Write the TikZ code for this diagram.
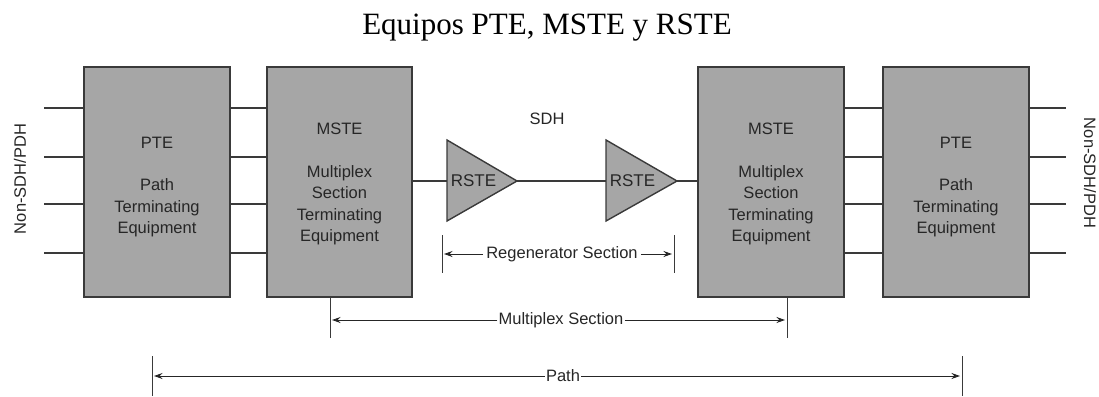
\documentclass[tikz,border=0pt]{standalone}
\usepackage{fontspec}
\setmainfont{Liberation Serif}
\setsansfont{Liberation Sans}
\usetikzlibrary{arrows.meta}
\definecolor{boxgray}{HTML}{A6A6A6}
\definecolor{edgegray}{HTML}{3A3A3A}
\begin{document}
\begin{tikzpicture}[x=1pt,y=-1pt,
  eqbox/.style={draw=edgegray,line width=1.4pt,fill=boxgray,minimum width=146pt,minimum height=230pt,inner sep=0pt},
  boxtxt/.style={font=\sffamily\fontsize{16.5}{21.5}\selectfont,align=center,text=black!85,inner sep=0pt},
  wire/.style={draw=edgegray,line width=1.4pt},
  tick/.style={draw=edgegray,line width=1pt},
  dim/.style={draw=black!85,line width=1pt,-{Stealth[length=8.5pt,width=6pt]}},
  lbl/.style={font=\sffamily\fontsize{16.5}{20}\selectfont,text=black!85},
  tri/.style={draw=edgegray,line width=1.4pt,fill=boxgray}]
\useasboundingbox (0,0) rectangle (1099,396);

\node[font=\fontsize{31}{36}\selectfont,anchor=base] (title) at (547,35) {Equipos PTE, MSTE y RSTE};

% boxes
\node[eqbox] (pteL) at (157,182) {};
\node[eqbox,minimum width=145pt] (msteL) at (339.5,182) {};
\node[eqbox] (msteR) at (771,182) {};
\node[eqbox] (pteR) at (956,182) {};
\node[boxtxt] (pteLt) at ([yshift=-5pt]pteL.center) {PTE\\[21pt]Path\\Terminating\\Equipment};
\node[boxtxt] (msteLt) at ([yshift=-2pt]msteL.center) {MSTE\\[21pt]Multiplex\\Section\\Terminating\\Equipment};
\node[boxtxt] (msteRt) at ([yshift=-2pt]msteR.center) {MSTE\\[21pt]Multiplex\\Section\\Terminating\\Equipment};
\node[boxtxt] (pteRt) at ([yshift=-5pt]pteR.center) {PTE\\[21pt]Path\\Terminating\\Equipment};

% side labels
\node[lbl,rotate=90] (nsL) at (20,179) {Non-SDH/PDH};
\node[lbl,rotate=-90] (nsR) at (1090,173) {Non-SDH/PDH};

% tributary lines
\foreach \yy [count=\i] in {108,157,204,253}{
  \coordinate (inL\i) at (44,\yy);
  \coordinate (inR\i) at (1066,\yy);
  \draw[wire] (inL\i) -- (pteL.west |- inL\i);
  \draw[wire] (pteL.east |- inL\i) -- (msteL.west |- inL\i);
  \draw[wire] (msteR.east |- inL\i) -- (pteR.west |- inL\i);
  \draw[wire] (pteR.east |- inR\i) -- (inR\i);
}

% regenerators
\coordinate (r1w) at (447,181);
\coordinate (r1e) at (517,181);
\coordinate (r2w) at (606,181);
\coordinate (r2e) at (677,181);
\draw[tri] (447,140) -- (r1e) -- (447,221) -- cycle;
\draw[tri] (606,140) -- (r2e) -- (606,221) -- cycle;
\node[lbl,font=\sffamily\fontsize{17}{20}\selectfont] (r1) at (473.5,181) {RSTE};
\node[lbl,font=\sffamily\fontsize{17}{20}\selectfont] (r2) at (632.5,181) {RSTE};
\draw[wire] (msteL.east |- r1w) -- (r1w);
\draw[wire] (r1e) -- (r2w);
\draw[wire] (r2e) -- (msteR.west |- r2e);

\node[lbl] (sdh) at (547,119) {SDH};

% regenerator section
\coordinate (rtL1) at (442,235); \coordinate (rtL2) at (442,273);
\coordinate (rtR1) at (674,235); \coordinate (rtR2) at (674,273);
\draw[tick] (rtL1) -- (rtL2);
\draw[tick] (rtR1) -- (rtR2);
\node[lbl,inner sep=3pt] (reg) at (562,254) {Regenerator Section};
\coordinate (regA) at (444,254);
\coordinate (regB) at (672,254);
\draw[dim] (reg.west) -- (regA);
\draw[dim] (reg.east) -- (regB);

% multiplex section
\coordinate (mtL1) at (330,298); \coordinate (mtL2) at (330,338);
\coordinate (mtR1) at (787,298); \coordinate (mtR2) at (787,338);
\draw[tick] (mtL1) -- (mtL2);
\draw[tick] (mtR1) -- (mtR2);
\node[lbl,inner sep=1pt,font=\sffamily\fontsize{16.5}{20}\selectfont] (mux) at (561,320) {Multiplex Section};
\coordinate (muxA) at (332,320);
\coordinate (muxB) at (785,320);
\draw[dim] (mux.west) -- (muxA);
\draw[dim] (mux.east) -- (muxB);

% path
\coordinate (ptL1) at (152,356); \coordinate (ptL2) at (152,396);
\coordinate (ptR1) at (962,356); \coordinate (ptR2) at (962,396);
\draw[tick] (ptL1) -- (ptL2);
\draw[tick] (ptR1) -- (ptR2);
\node[lbl,inner sep=1pt] (path) at (563,376) {Path};
\coordinate (pathA) at (154,376);
\coordinate (pathB) at (960,376);
\draw[dim] (path.west) -- (pathA);
\draw[dim] (path.east) -- (pathB);
\end{tikzpicture}
\end{document}
